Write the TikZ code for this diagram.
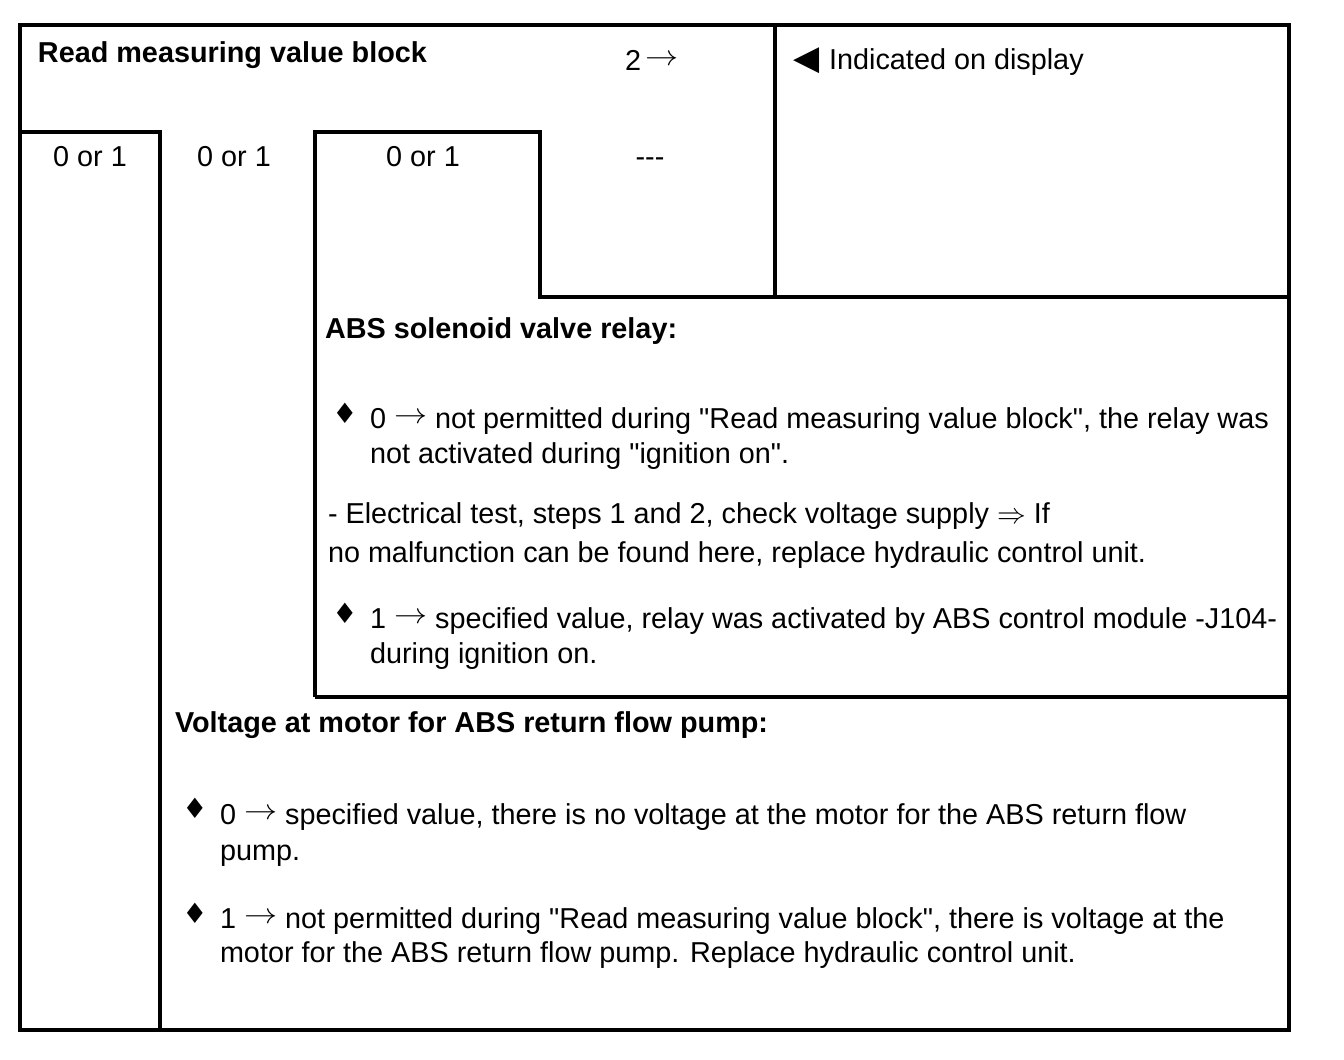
\documentclass[tikz,border=0pt]{standalone}
\usepackage{fontspec}
\newfontfamily\arialfont{Liberation Sans}
\newfontfamily\symfont{DejaVu Sans}
\newcommand{\valarrow}{\raisebox{2.5pt}{\scalebox{1.15}[1]{$\rightarrow$}}}

\begin{document}
\begin{tikzpicture}[x=0.5pt, y=-0.5pt,
  every node/.style = {inner sep=0pt, outer sep=0pt,
    font=\arialfont\fontsize{14.4}{17}\selectfont},
  line/.style = {anchor=base west},
  head/.style = {anchor=base west,
    font=\arialfont\fontsize{14.4}{17}\selectfont\bfseries},
  cell/.style = {anchor=base},
  diamondmark/.style = {font=\symfont\fontsize{14}{14}\selectfont},
  frame/.style = {line width=1.6pt}]
  \useasboundingbox (0,0) rectangle (1344,1060);
  \draw[frame] (20,25) rectangle (1289,1030);
  \draw[frame] (20,132) -- (160,132) -- (160,1030);
  \draw[frame] (315,697) -- (315,132) -- (540,132) -- (540,297) -- (1289,297);
  \draw[frame] (775,25) -- (775,297);
  \draw[frame] (315,697) -- (1289,697);

  \node[head] (title) at (38,62) {Read measuring value block};
  \node[line] (group) at (625,70) {2\,\valarrow};
  \node[line] (disp) at (793,69)
    {{\symfont\fontsize{17}{17}\selectfont ◀}\hspace{5pt}Indicated on display};
  \node[cell] (val1) at (90,166) {0 or 1};
  \node[cell] (val2) at (234,166) {0 or 1};
  \node[cell] (val3) at (423,166) {0 or 1};
  \node[cell] (val4) at (650,166) {---};

  \node[head] (relay) at (325,338) {ABS solenoid valve relay:};
  \node[diamondmark] (dia1) at (345,413) {♦};
  \node[line] (relay1a) at (370,428)
    {0 \valarrow{} not permitted during "Read measuring value block", the relay was};
  \node[line] (relay1b) at (370,463) {not activated during "ignition on".};
  \node[line] (relay2a) at (328,523)
    {- Electrical test, steps 1 and 2, check voltage supply $\Rightarrow$ If};
  \node[line] (relay2b) at (328,562)
    {no malfunction can be found here, replace hydraulic control unit.};
  \node[diamondmark] (dia2) at (345,613) {♦};
  \node[line] (relay3a) at (370,628)
    {1 \valarrow{} specified value, relay was activated by ABS control module -J104-};
  \node[line] (relay3b) at (370,663) {during ignition on.};

  \node[head] (pump) at (175,732) {Voltage at motor for ABS return flow pump:};
  \node[diamondmark] (dia3) at (195,808) {♦};
  \node[line] (pump1a) at (220,824)
    {0 \valarrow{} specified value, there is no voltage at the motor for the ABS return flow};
  \node[line] (pump1b) at (220,860) {pump.};
  \node[diamondmark] (dia4) at (195,913) {♦};
  \node[line] (pump2a) at (220,928)
    {1 \valarrow{} not permitted during "Read measuring value block", there is voltage at the};
  \node[line] (pump2b) at (220,962)
    {motor for the ABS return flow pump. Replace hydraulic control unit.};
\end{tikzpicture}
\end{document}
